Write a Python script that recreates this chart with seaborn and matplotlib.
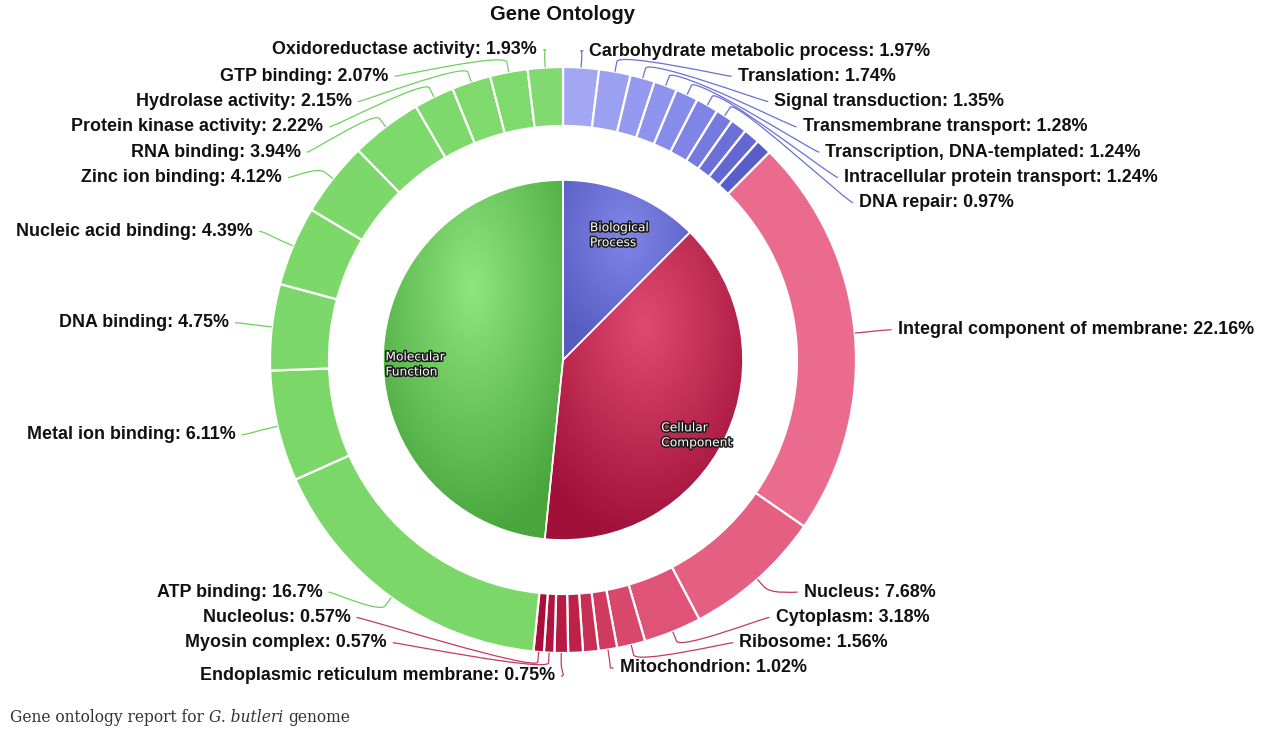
import numpy as np
import matplotlib
matplotlib.use("Agg")
import matplotlib.pyplot as plt
import matplotlib.patheffects as pe
from matplotlib.path import Path
from matplotlib.patches import PathPatch
import seaborn as sns

# ---------------- data ----------------
groups = ["Biological\nProcess", "Cellular\nComponent", "Molecular\nFunction"]

bp_terms = ["Carbohydrate metabolic process", "Translation", "Signal transduction",
            "Transmembrane transport", "Transcription, DNA-templated",
            "Intracellular protein transport", "DNA repair", None, None, None]
bp_values = [1.97, 1.74, 1.35, 1.28, 1.24, 1.24, 0.97, 0.91, 0.89, 0.86]

cc_terms = ["Integral component of membrane", "Nucleus", "Cytoplasm", "Ribosome",
            "Mitochondrion", None, None, "Endoplasmic reticulum membrane",
            "Myosin complex", "Nucleolus"]
cc_values = [22.16, 7.68, 3.18, 1.56, 1.02, 0.85, 0.81, 0.75, 0.57, 0.57]

mf_terms = ["ATP binding", "Metal ion binding", "DNA binding", "Nucleic acid binding",
            "Zinc ion binding", "RNA binding", "Protein kinase activity",
            "Hydrolase activity", "GTP binding", "Oxidoreductase activity"]
mf_values = [16.7, 6.11, 4.75, 4.39, 4.12, 3.94, 2.22, 2.15, 2.07, 1.93]

title = "Gene Ontology"
caption_parts = [("Gene ontology report for ", "normal"), ("G. butleri", "italic"),
                 (" genome", "normal")]

# ---------------- style ----------------
sns.set_theme(style="white")
plt.rcParams['font.family'] = ['Liberation Sans', 'DejaVu Sans']

W, H = 1267, 732
CX, CY = 563, 360
R_PIE, R_IN, R_OUT, R_LBL = 180, 234, 293, 330

pie_light = ["#7f86e8", "#e04a70", "#8fe67d"]
pie_dark = ["#565cbf", "#a0103a", "#48a63d"]
bp_cols = sns.blend_palette(["#a2a6f3", "#8489ea", "#585dca"], len(bp_values))
cc_cols = sns.blend_palette(["#ea6b8d", "#d9476d", "#bd2149", "#a90f3a"], len(cc_values))
mf_cols = sns.blend_palette(["#7bd768", "#80da6f"], len(mf_values))
conn_cols = ["#6a6fd6", "#c43a60", "#6fcf5e"]

fig = plt.figure(figsize=(W / 100, H / 100), dpi=100)
fig.patch.set_facecolor("white")
ax = fig.add_axes([0, 0, 1, 1])

# ---------------- inner pie with radial gradients ----------------
group_values = [sum(bp_values), sum(cc_values), sum(mf_values)]
wedges, _ = ax.pie(group_values, radius=R_PIE, center=(CX, CY), startangle=270,
                   counterclock=True,
                   wedgeprops=dict(edgecolor="white", linewidth=1.2))


def hex2rgb(h):
    return np.array(matplotlib.colors.to_rgb(h))


for w, lc, dc in zip(wedges, pie_light, pie_dark):
    w.set_facecolor("none")
    w.set_zorder(3)
    ext = w.get_path().get_extents()
    x0, y0, x1, y1 = ext.x0, ext.y0, ext.x1, ext.y1
    bw, bh = x1 - x0, y1 - y0
    xs = np.linspace(x0, x1, int(bw) + 2)
    ys = np.linspace(y0, y1, int(bh) + 2)
    X, Y = np.meshgrid(xs, ys)
    gx, gy = x0 + 0.5 * bw, y0 + 0.3 * bh
    d = np.sqrt(((X - gx) / (0.7 * bw)) ** 2 + ((Y - gy) / (0.7 * bh)) ** 2)
    d = np.clip(d, 0, 1)[..., None]
    img = hex2rgb(lc) * (1 - d) + hex2rgb(dc) * d
    im = ax.imshow(img, extent=(x0, x1, y1, y0), origin="upper",
                   interpolation="bilinear", zorder=2)
    im.set_clip_path(w)

# ---------------- outer ring ----------------
ring_terms = bp_terms + cc_terms + mf_terms
ring_values = bp_values + cc_values + mf_values
ring_colors = list(bp_cols) + list(cc_cols) + list(mf_cols)
ring_group = [0] * len(bp_values) + [1] * len(cc_values) + [2] * len(mf_values)

ax.pie(ring_values, radius=R_OUT, center=(CX, CY), startangle=270, counterclock=True,
       colors=ring_colors,
       wedgeprops=dict(width=R_OUT - R_IN, edgecolor="white", linewidth=1.6))

# ---------------- inner pie labels ----------------
gtot = sum(group_values)
gcum = np.cumsum([0] + group_values)
for i, name in enumerate(groups):
    phi = np.deg2rad((gcum[i] + group_values[i] / 2) / gtot * 360)
    px = CX + 148 * np.sin(phi)
    py = CY - 148 * np.cos(phi) + 12
    ax.text(px, py, name, ha="center", va="center", multialignment="left",
            fontsize=8.8, color="white", family="DejaVu Sans", zorder=6,
            linespacing=1.2,
            path_effects=[pe.withStroke(linewidth=2.2, foreground="#1a1a1a")])

# ---------------- outer labels ----------------
tot = sum(ring_values)
cum = np.cumsum([0] + ring_values)
mid = (cum[:-1] + np.array(ring_values) / 2) / tot * 2 * np.pi

TOP, BOTTOM, SLOT = 51, 668, 25.3
EDGE_TOP, EDGE_BOTTOM = 50, 676


def distribute(nat):
    ys = list(nat)
    for i in range(len(ys)):
        lo = TOP if i == 0 else ys[i - 1] + SLOT
        ys[i] = max(ys[i], lo)
    for i in range(len(ys) - 1, -1, -1):
        hi = BOTTOM if i == len(ys) - 1 else ys[i + 1] - SLOT
        ys[i] = min(ys[i], hi)
    return ys


items = []
for i, name in enumerate(ring_terms):
    if name is None:
        continue
    phi = mid[i]
    side = 1 if phi < np.pi else -1
    nat = CY - R_LBL * np.cos(phi)
    items.append(dict(i=i, name=name, phi=phi, side=side, nat=nat))

for side in (1, -1):
    grp = sorted([it for it in items if it["side"] == side], key=lambda t: t["nat"])
    ys = distribute([t["nat"] for t in grp])
    for it, y in zip(grp, ys):
        it["y"] = y

for it in items:
    phi, side, y = it["phi"], it["side"], it["y"]
    extreme = (y <= TOP + 2 or y >= BOTTOM - 2)
    yx = it["nat"] if extreme else y
    if extreme and side == -1:
        y = float(np.clip(it["nat"], EDGE_TOP, EDGE_BOTTOM))
    dx = np.sqrt(max(R_LBL ** 2 - (yx - CY) ** 2, 0))
    x = CX + side * dx
    touch = np.array([CX + R_OUT * np.sin(phi), CY - R_OUT * np.cos(phi)])
    brk = np.array([CX + (R_OUT + 10) * np.sin(phi), CY - (R_OUT + 10) * np.cos(phi)])
    c2 = 2 * brk - touch
    verts = [(x, y), (x - side * 5, y), tuple(c2), tuple(brk), tuple(touch)]
    codes = [Path.MOVETO, Path.CURVE4, Path.CURVE4, Path.CURVE4, Path.LINETO]
    ax.add_patch(PathPatch(Path(verts, codes), facecolor="none",
                           edgecolor=conn_cols[ring_group[it["i"]]], linewidth=0.9,
                           zorder=4))
    val = ring_values[it["i"]]
    ax.text(x + side * 6, y, f"{it['name']}: {val:g}%",
            ha="left" if side == 1 else "right", va="center",
            fontsize=12.9, fontweight="bold", color="#111111", zorder=5)

# ---------------- title & caption ----------------
ax.text(CX, 15, title, ha="center", va="center", fontsize=14.6,
        fontweight="bold", color="#111111")

ax.set_xlim(0, W)
ax.set_ylim(H, 0)
ax.axis("off")

fig.canvas.draw()
renderer = fig.canvas.get_renderer()
cap_kw = dict(va="center", ha="left", fontsize=11.2, family="DejaVu Serif",
              color="#333333")
probe = ax.text(0, -100, "a a", **cap_kw)
probe2 = ax.text(0, -100, "aa", **cap_kw)
space_w = probe.get_window_extent(renderer).width - probe2.get_window_extent(renderer).width
probe.remove()
probe2.remove()
cx = 10
for txt, style in caption_parts:
    lead = len(txt) - len(txt.lstrip(" "))
    cx += lead * space_w
    t = ax.text(cx, 717, txt.strip(" "), style=style, **cap_kw)
    cx += t.get_window_extent(renderer).width
    trail = len(txt) - len(txt.rstrip(" "))
    cx += trail * space_w

fig.savefig("out.png", dpi=100, facecolor="white")
